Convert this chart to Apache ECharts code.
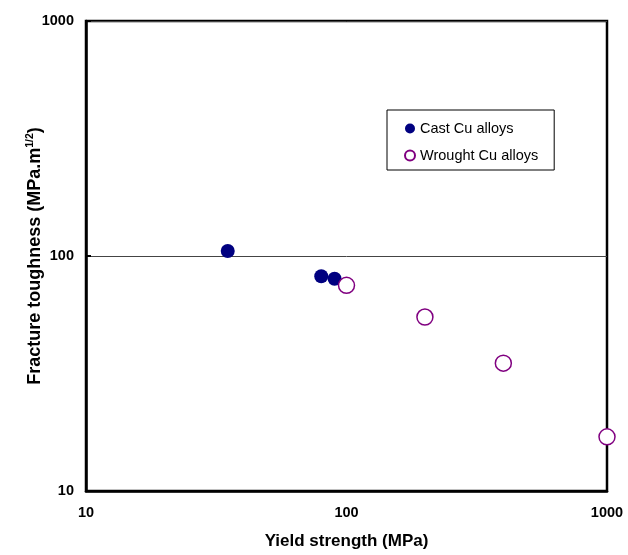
<!DOCTYPE html>
<html>
<head>
<meta charset="utf-8">
<script src="https://cdn.jsdelivr.net/npm/echarts@6/dist/echarts.min.js"></script>
<style>html,body{margin:0;padding:0;background:#fff}#c{width:628px;height:555px}</style>
</head>
<body>
<div id="c"></div>
<script>
const castX = [35, 80, 90];
const castY = [105, 82, 80];
const wroughtX = [100, 200, 400, 1000];
const wroughtY = [75, 55, 35, 17];
const seriesNames = ['Cast Cu alloys', 'Wrought Cu alloys'];
const xTitle = 'Yield strength (MPa)';

const chart = echarts.init(document.getElementById('c'));
const F = 'Arial, "Liberation Sans", sans-serif';
const fmt = v => String(Math.round(v));
chart.setOption({
  animation: false,
  backgroundColor: '#fff',
  grid: {left: 86, top: 21, right: 21, bottom: 60, show: true, borderColor: '#000', borderWidth: 2.5, backgroundColor: 'transparent'},
  legend: {
    left: 387, top: 110,
    orient: 'vertical',
    data: seriesNames,
    backgroundColor: '#fff',
    borderColor: '#000', borderWidth: 1,
    padding: [11, 16, 7, 17],
    itemGap: 12, itemWidth: 10, itemHeight: 10, itemTextGap: 4,
    textStyle: {fontFamily: F, fontSize: 14.5, color: '#000'}
  },
  xAxis: {
    type: 'log', logBase: 10, min: 10, max: 1000,
    name: xTitle, nameLocation: 'middle', nameGap: 42, nameMoveOverlap: false,
    nameTextStyle: {fontFamily: F, fontSize: 17, fontWeight: 'bold', color: '#000'},
    axisLine: {show: true, lineStyle: {color: '#000', width: 2.5}},
    axisTick: {show: false},
    minorTick: {show: false},
    splitLine: {show: false},
    axisLabel: {fontFamily: F, fontSize: 14.5, fontWeight: 'bold', color: '#000', margin: 14, formatter: fmt}
  },
  yAxis: {
    type: 'log', logBase: 10, min: 10, max: 1000,
    name: '{a|Fracture toughness (MPa.m}{s|1/2}{a|)}',
    nameLocation: 'middle', nameGap: 40, nameRotate: 90, nameMoveOverlap: false,
    nameTextStyle: {
      rich: {
        a: {fontFamily: F, fontSize: 18, fontWeight: 'bold', color: '#000'},
        s: {fontFamily: F, fontSize: 10.5, fontWeight: 'bold', color: '#000', padding: [0, 0, 10, 0]}
      }
    },
    axisLine: {show: true, lineStyle: {color: '#000', width: 2.5}},
    axisTick: {show: true, inside: true, length: 5, lineStyle: {color: '#000', width: 2}},
    splitLine: {show: true, lineStyle: {color: '#444', width: 1}},
    axisLabel: {fontFamily: F, fontSize: 14.5, fontWeight: 'bold', color: '#000', margin: 12, formatter: fmt}
  },
  series: [
    {
      name: seriesNames[0], type: 'scatter',
      data: castX.map((x, i) => [x, castY[i]]),
      symbol: 'circle', symbolSize: 14,
      itemStyle: {color: '#000080', opacity: 1}
    },
    {
      name: seriesNames[1], type: 'scatter',
      data: wroughtX.map((x, i) => [x, wroughtY[i]]),
      symbol: 'circle', symbolSize: 16,
      itemStyle: {color: '#fff', borderColor: '#800080', borderWidth: 1.5, opacity: 1},
      z: 3
    }
  ]
});
</script>
</body>
</html>
